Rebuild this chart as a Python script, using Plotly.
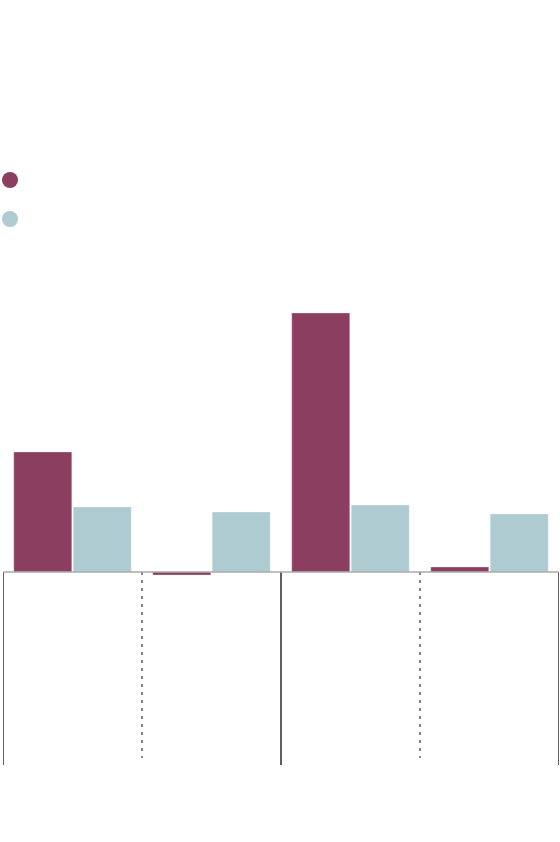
import plotly.graph_objects as go

categories = ["A", "B", "C", "D"]
series_names = ["Series 1", "Series 2"]
series1 = [12.0, -0.3, 25.9, 0.5]
series2 = [6.5, 6.0, 6.7, 5.8]
colors = ["#8B3E60", "#AECBD1"]

W, H = 560, 842
ML, MR, MT, MB = 3, 1, 290, 77
y_min, y_max = -19.3, 28.2

fig = go.Figure()
for name, vals, col in zip(series_names, [series1, series2], colors):
    fig.add_trace(go.Bar(
        x=categories, y=vals, name=name, showlegend=False,
        marker=dict(color=col, line=dict(color="rgba(255,255,255,0.6)", width=0.5)),
    ))

# legend swatches (textless legend, as in the reference)
plot_w = W - ML - MR
plot_h = H - MT - MB
for k, col in enumerate(colors):
    cx = (10 - ML) / plot_w
    cy = (H - MB - (180 + 39 * k)) / plot_h
    fig.add_shape(type="circle", xref="paper", yref="paper",
                  xsizemode="pixel", ysizemode="pixel",
                  xanchor=cx, yanchor=cy, x0=-8, x1=8, y0=-8, y1=8,
                  fillcolor=col, line=dict(width=0))

# separators below zero: solid between panels, dotted in the middle of panels
n = len(categories)
for i in range(n + 1):
    xb = i - 0.5
    if i % 2 == 0:
        fig.add_shape(type="line", xref="x", yref="y", x0=xb, x1=xb, y0=0, y1=y_min,
                      line=dict(color="#5f5f5f", width=2))
    else:
        fig.add_shape(type="line", xref="x", yref="y", x0=xb, x1=xb, y0=0, y1=y_min + 0.7,
                      line=dict(color="#5f5f5f", width=1.5, dash="3px,5px"))
fig.add_shape(type="line", xref="x", yref="y", x0=-0.5, x1=n - 0.5, y0=0, y1=0,
              line=dict(color="#aaaaaa", width=1.5))

fig.update_layout(
    width=W, height=H,
    margin=dict(l=ML, r=MR, t=MT, b=MB),
    paper_bgcolor="white", plot_bgcolor="white",
    barmode="group", bargap=0.144, bargroupgap=0.025,
    xaxis=dict(range=[-0.5, n - 0.5], showticklabels=False, showgrid=False,
               zeroline=False, showline=False, ticks=""),
    yaxis=dict(range=[y_min, y_max], showticklabels=False, showgrid=False,
               zeroline=False, showline=False, ticks=""),
    showlegend=False,
)

fig.write_html("out.html", config={"displayModeBar": False},
               post_script="document.body.style.margin='0';")
